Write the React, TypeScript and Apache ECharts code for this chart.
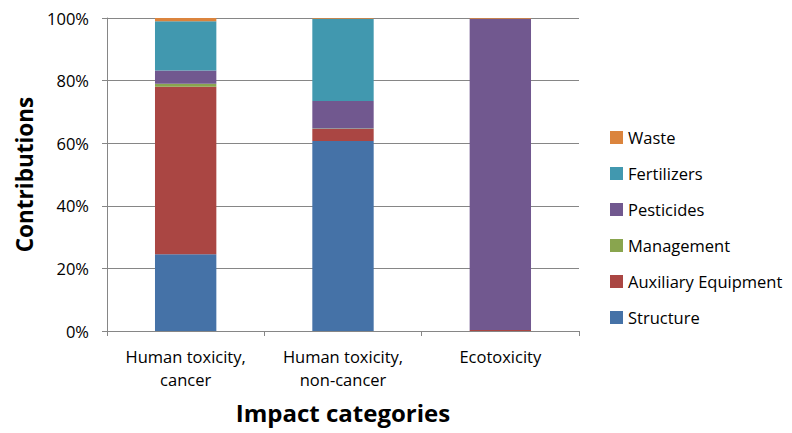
import React, { useEffect, useRef } from "react";
import * as echarts from "echarts";

// Impact categories on the x axis
const categories = ["Human toxicity,\ncancer", "Human toxicity,\nnon-cancer", "Ecotoxicity"];

// Percentage contribution of each life-cycle component per category
const structure = [24.5, 60.7, 0];
const auxiliaryEquipment = [53.5, 3.8, 0.3];
const management = [1.0, 0.2, 0];
const pesticides = [4.2, 8.8, 99.5];
const fertilizers = [15.8, 26.3, 0];
const waste = [1.0, 0.2, 0.2];

const yTicks = [0, 20, 40, 60, 80, 100];

const FONT = "'Open Sans', 'Liberation Sans', sans-serif";
const LABEL_SIZE = 16.5;

const seriesDefs = [
  { name: "Structure", data: structure, color: "#4572A7" },
  { name: "Auxiliary Equipment", data: auxiliaryEquipment, color: "#AA4643" },
  { name: "Management", data: management, color: "#89A54E" },
  { name: "Pesticides", data: pesticides, color: "#71588F" },
  { name: "Fertilizers", data: fertilizers, color: "#4198AF" },
  { name: "Waste", data: waste, color: "#DB843D" },
];

export default function App() {
  const ref = useRef<HTMLDivElement>(null);

  useEffect(() => {
    if (!ref.current) return;
    const chart = echarts.init(ref.current, null, { renderer: "svg" });
    chart.setOption({
      animation: false,
      textStyle: { fontFamily: FONT },
      grid: { left: 107, right: 213, top: 18, bottom: 102, outerBoundsMode: "none" },
      legend: {
        orient: "vertical",
        left: 610,
        top: 129,
        padding: 0,
        itemWidth: 13,
        itemHeight: 13,
        itemGap: 19,
        icon: "rect",
        data: seriesDefs.map((s) => s.name).reverse(),
        textStyle: { fontFamily: FONT, fontSize: LABEL_SIZE, color: "#000" },
      },
      xAxis: {
        type: "category",
        data: categories,
        name: "Impact categories",
        nameLocation: "middle",
        nameGap: 69,
        nameTextStyle: { fontFamily: FONT, fontSize: 24, fontWeight: "bold", color: "#000" },
        axisLine: { lineStyle: { color: "#868686", width: 1 } },
        axisTick: { show: true, length: 5, lineStyle: { color: "#868686" } },
        axisLabel: {
          fontFamily: FONT,
          fontSize: LABEL_SIZE,
          color: "#000",
          lineHeight: 23,
          margin: 14,
        },
      },
      yAxis: {
        type: "value",
        min: 0,
        max: 100,
        interval: 20,
        name: "Contributions",
        nameLocation: "middle",
        nameGap: 68,
        nameRotate: 90,
        nameTextStyle: { fontFamily: FONT, fontSize: 22.5, fontWeight: "bold", color: "#000" },
        axisLine: { show: true, lineStyle: { color: "#868686", width: 1 } },
        axisTick: { show: true, length: 5, inside: false, lineStyle: { color: "#868686" } },
        axisLabel: {
          fontFamily: FONT,
          fontSize: LABEL_SIZE,
          color: "#000",
          margin: 18,
          formatter: (v: number) => (yTicks.includes(v) ? `${v}%` : ""),
        },
        splitLine: { show: true, lineStyle: { color: "#868686", width: 1 } },
      },
      series: seriesDefs.map((s) => ({
        name: s.name,
        type: "bar",
        stack: "total",
        barWidth: "39%",
        data: s.data,
        itemStyle: { color: s.color },
      })),
    });
    return () => chart.dispose();
  }, []);

  return (
    <div
      ref={ref}
      style={{ position: "fixed", left: 0, top: 0, width: 792, height: 433, background: "#fff" }}
    />
  );
}
